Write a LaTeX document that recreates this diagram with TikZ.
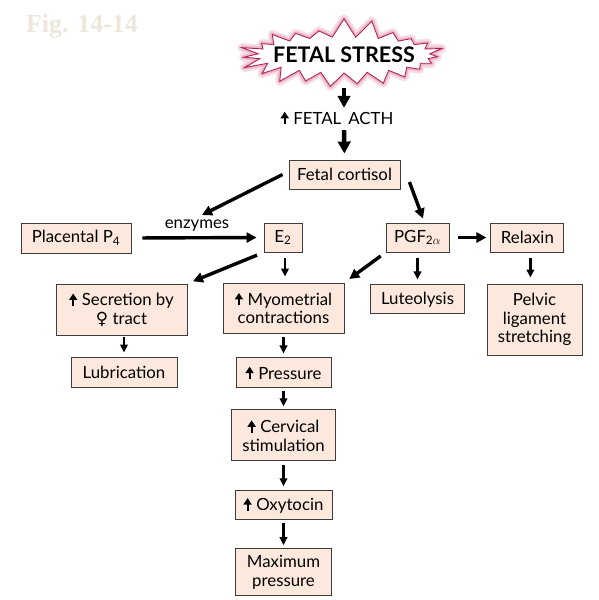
\documentclass[tikz,border=0pt]{standalone}
\usepackage{fontspec}
\setmainfont{Lato}
\newfontfamily\figfont{Liberation Serif}
\newfontfamily\venusfont{DejaVu Sans}
\usepackage{tikz}
\usetikzlibrary{arrows.meta,positioning,shapes.symbols}
\definecolor{fsfill}{HTML}{FCE8DC}
\definecolor{fsedge}{HTML}{3C3C3C}
\definecolor{fscrimson}{HTML}{B02258}
\definecolor{fsglow}{HTML}{E6A0B4}
\definecolor{fsfig}{HTML}{ECE7DA}
\newcommand{\uparr}{\tikz[baseline=0pt]\draw[line width=2.1pt,-{Triangle[length=6.5pt,width=8pt]}] (0pt,0pt) -- (0pt,12.5pt);\;}

\begin{document}
\begin{tikzpicture}[x=1pt,y=-1pt,
  font=\fontsize{16.8}{18.5}\selectfont,
  box/.style={draw=fsedge,line width=0.9pt,fill=fsfill,inner sep=0pt,align=center,
              minimum height=29pt},
  burst/.style={starburst,starburst points=23,random starburst=7,starburst point height=20pt,
                draw=fscrimson,line width=0.9pt,fill=white,inner xsep=-12pt,inner ysep=0pt,
                minimum width=212pt,minimum height=76pt,
                preaction={draw=fsglow!35,line width=9pt,line join=round},
                preaction={draw=fsglow!75,line width=4.5pt,line join=round},
                font=\fontsize{21.5}{24}\selectfont\bfseries},
  arr/.style={line width=3.4pt,-{Triangle[length=10pt,width=10pt]}},
  sarr/.style={line width=2.4pt,-{Triangle[length=8pt,width=7.5pt]}},
  barr/.style={line width=4.4pt,-{Triangle[length=12pt,width=12.5pt]}},
]
\useasboundingbox (0,0) rectangle (599,600);

\node[font=\figfont\fontsize{26}{28}\selectfont\bfseries,text=fsfig] (fig) at (82,26) {Fig. 14-14};

\node[burst] (stress) at (344,55) {FETAL STRESS};
\node[minimum height=20pt,inner sep=0pt] (acth) at (337,118) {\uparr FETAL\hspace{7pt}ACTH};
\node[box,minimum width=111pt] (cortisol) at (344.5,174.5) {Fetal cortisol};

\node[box,minimum width=110pt,minimum height=30pt] (placental) at (76,238) {Placental P\textsubscript{4}};
\node[inner sep=1pt] (enz) at (197,226) {enzymes};
\node[box,minimum width=38pt] (e2) at (283,237.5) {E\textsubscript{2}};
\node[box,minimum width=63pt] (pgf) at (417.5,237.5) {PGF\textsubscript{2$\alpha$}};
\node[box,minimum width=73pt,right=41pt of pgf] (relaxin) {Relaxin};

\node[box,minimum width=131pt,minimum height=51pt] (secretion) at (121.5,309.5)
  {\uparr Secretion by\\{\venusfont ♀} tract};
\node[box,minimum width=121pt,minimum height=50pt] (myo) at (283.5,308)
  {\uparr Myometrial\\contractions};
\node[box,minimum width=94pt,below=32pt of pgf] (lut) {Luteolysis};
\node[box,minimum width=95pt,minimum height=71pt] (pelvic) at (534.5,319.5)
  {Pelvic\\ligament\\stretching};

\node[box,minimum width=106pt,minimum height=30pt] (lub) at (124,372) {Lubrication};
\node[box,minimum width=95pt,minimum height=30pt,below=24pt of myo] (pressure) {\uparr Pressure};
\node[box,minimum width=104pt,minimum height=51pt,below=21pt of pressure] (cervical)
  {\uparr Cervical\\stimulation};
\node[box,minimum width=97pt,below=29pt of cervical] (oxy) {\uparr Oxytocin};
\node[box,minimum width=96pt,minimum height=47pt,below=28pt of oxy] (maxp)
  {Maximum\\pressure};

% top chain
\draw[barr,shorten <=33pt] (stress.center) -- (stress.center |- acth.north);
\draw[barr,shorten <=2pt,shorten >=6pt] (stress.center |- acth.south) -- (cortisol.north);

% from cortisol
\draw[arr] ([xshift=-6pt]cortisol.west) -- ([xshift=5pt,yshift=4pt]enz.north);
\draw[arr] ([xshift=9pt,yshift=-7.5pt]cortisol.east) -- ([xshift=5.5pt,yshift=4pt]pgf.north);
\draw[arr,shorten <=11pt,shorten >=7pt] (placental.east) -- (e2.west);
\draw[arr,shorten <=9pt,shorten >=4pt] (pgf.east) -- (relaxin.west);

% second row
\draw[arr,shorten <=7pt,shorten >=6pt] (e2.south west) -- (secretion.north east);
\draw[arr,shorten <=6pt,shorten >=6pt] (pgf.south west) -- (myo.north east);
\draw[sarr,shorten <=6pt,shorten >=6pt] ([xshift=2pt]e2.south) -- ([xshift=2pt]e2.south |- myo.north);
\draw[sarr,shorten <=6pt,shorten >=5pt] (pgf.south) -- (lut.north);
\draw[sarr,shorten <=6pt,shorten >=6pt] ([xshift=3pt]relaxin.south) -- ([xshift=3pt]relaxin.south |- pelvic.north);

% lower chains
\draw[sarr,shorten <=2pt,shorten >=4pt] (lub.north |- secretion.south) -- (lub.north);
\draw[sarr,shorten <=4pt,shorten >=4pt] (myo.south -| pressure) -- (pressure.north);
\draw[sarr,shorten <=3pt,shorten >=3pt] (pressure.south) -- (cervical.north);
\draw[sarr,shorten <=4pt,shorten >=4pt] (cervical.south) -- (oxy.north);
\draw[sarr,shorten <=3pt,shorten >=3pt] (oxy.south) -- (maxp.north);

\end{tikzpicture}
\end{document}
